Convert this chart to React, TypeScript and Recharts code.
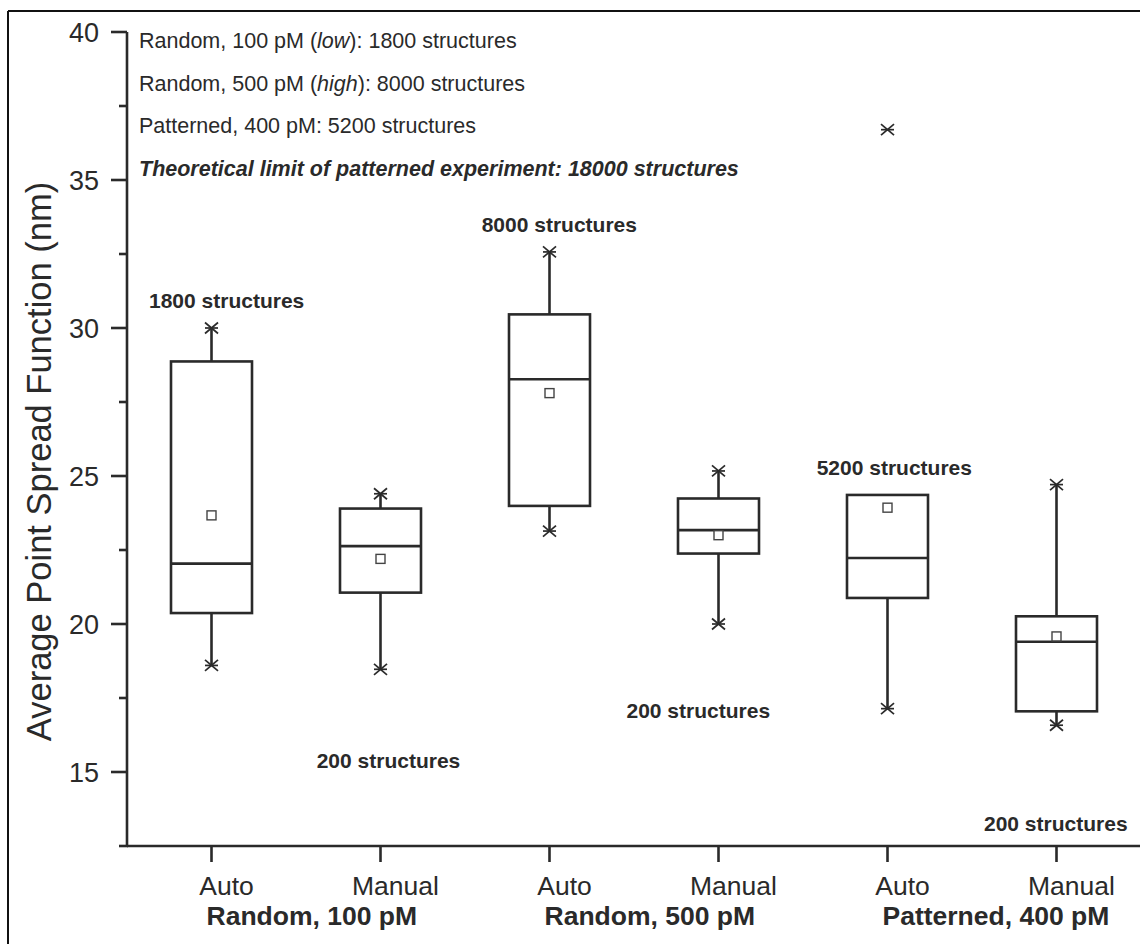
import React from 'react';
import { ComposedChart, Bar, XAxis, YAxis } from 'recharts';

const groups = ['Random, 100 pM', 'Random, 500 pM', 'Patterned, 400 pM'];
const methods = ['Auto', 'Manual', 'Auto', 'Manual', 'Auto', 'Manual'];
const ids = ['r100-auto', 'r100-manual', 'r500-auto', 'r500-manual', 'p400-auto', 'p400-manual'];
const lowStar = [18.6, 18.47, 23.14, 20.0, 17.14, 16.58];
const q1 = [20.37, 21.06, 23.99, 22.38, 20.88, 17.05];
const median = [22.04, 22.63, 28.27, 23.17, 22.23, 19.4];
const q3 = [28.87, 23.9, 30.46, 24.24, 24.36, 20.26];
const highStar = [30.0, 24.4, 32.57, 25.17, 36.7, 24.71];
const whiskerTop = [30.0, 24.4, 32.57, 25.17, 24.36, 24.71];
const mean = [23.67, 22.2, 27.8, 23.0, 23.93, 19.58];
const yTicks = [15, 17.5, 20, 22.5, 25, 27.5, 30, 32.5, 35, 37.5, 40];
const majorTicks = [15, 20, 25, 30, 35, 40];

const data = ids.map((id, i) => ({
  id,
  box: [q1[i], q3[i]],
  q1: q1[i],
  q3: q3[i],
  median: median[i],
  lowStar: lowStar[i],
  highStar: highStar[i],
  whiskerTop: whiskerTop[i],
  mean: mean[i],
}));

const INK = '#2a2a2a';
const FONT = '"Liberation Sans", Arial, sans-serif';

const Star = ({ cx, cy }: { cx: number; cy: number }) => (
  <g stroke={INK} strokeWidth={1.7}>
    <line x1={cx - 6.5} y1={cy - 5.5} x2={cx + 6.5} y2={cy + 5.5} />
    <line x1={cx - 6.5} y1={cy + 5.5} x2={cx + 6.5} y2={cy - 5.5} />
    <line x1={cx - 6.5} y1={cy} x2={cx + 6.5} y2={cy} />
  </g>
);

const BoxShape = (props: any) => {
  const { x, y, width, height, payload } = props;
  const top = Math.min(y, y + height);
  const h = Math.abs(height);
  const lo = payload.q1;
  const hi = payload.q3;
  const ppu = h / (hi - lo);
  const py = (v: number) => top + (hi - v) * ppu;
  const cx = x + width / 2;
  const sw = 2.6;
  return (
    <g>
      {payload.whiskerTop > hi && (
        <line x1={cx} y1={py(payload.whiskerTop)} x2={cx} y2={top} stroke={INK} strokeWidth={sw} />
      )}
      <line x1={cx} y1={top + h} x2={cx} y2={py(payload.lowStar)} stroke={INK} strokeWidth={sw} />
      <rect x={x} y={top} width={width} height={h} fill="#fff" stroke={INK} strokeWidth={sw} />
      <line x1={x} y1={py(payload.median)} x2={x + width} y2={py(payload.median)} stroke={INK} strokeWidth={sw} />
      <rect x={cx - 4.5} y={py(payload.mean) - 4.5} width={9} height={9} fill="#fff" stroke="#444" strokeWidth={1.4} />
      <Star cx={cx} cy={py(payload.highStar)} />
      <Star cx={cx} cy={py(payload.lowStar)} />
    </g>
  );
};

const XTick = (props: any) => {
  const { x, y, payload } = props;
  const i = ids.indexOf(payload.value);
  return (
    <g fontFamily={FONT} fill={INK}>
      <text x={x + 15} y={y + 33} textAnchor="middle" fontSize={26.5} fill={INK}>
        {methods[i]}
      </text>
      {i % 2 === 0 && (
        <text x={x - 5} y={y + 63} textAnchor="start" fontSize={26.5} fontWeight="bold" fill={INK}>
          {groups[i / 2]}
        </text>
      )}
    </g>
  );
};

const YTick = (props: any) => {
  const { x, y, payload } = props;
  const v = payload.value;
  const major = majorTicks.includes(v);
  const axisX = x + 16;
  return (
    <g>
      <line x1={axisX - (major ? 16 : 8)} y1={y} x2={axisX} y2={y} stroke={INK} strokeWidth={2.6} />
      {major && (
        <text x={axisX - 28} y={y} dy="0.36em" textAnchor="end" fontSize={27} fontFamily={FONT} fill={INK}>
          {v}
        </text>
      )}
    </g>
  );
};

export default function App() {
  return (
    <div style={{ position: 'fixed', left: 0, top: 0, width: 1140, height: 944, overflow: 'hidden', background: '#fff' }}>
      <div style={{ position: 'absolute', left: 0, top: 0 }}>
        <ComposedChart
          width={1160}
          height={944}
          data={data}
          margin={{ top: 32, right: 19, bottom: 0, left: 27 }}
        >
          <XAxis
            dataKey="id"
            type="category"
            height={98}
            interval={0}
            tickSize={16}
            tickMargin={0}
            axisLine={{ stroke: INK, strokeWidth: 2.6 }}
            tickLine={{ stroke: INK, strokeWidth: 2.6 }}
            tick={<XTick />}
          />
          <YAxis
            type="number"
            domain={[12.5, 40]}
            ticks={yTicks}
            interval={0}
            width={100}
            tickSize={16}
            tickMargin={0}
            allowDataOverflow
            axisLine={{ stroke: INK, strokeWidth: 2.6 }}
            tickLine={false}
            tick={<YTick />}
          />
          <Bar dataKey="box" barSize={81} shape={(p: any) => <BoxShape {...p} />} isAnimationActive={false} />
        </ComposedChart>
      </div>
      <svg
        width={1140}
        height={944}
        style={{ position: 'absolute', left: 0, top: 0, pointerEvents: 'none' }}
        fontFamily={FONT}
      >
        <line x1={8} y1={11} x2={1140} y2={11} stroke="#111" strokeWidth={2} />
        <line x1={8} y1={11} x2={8} y2={944} stroke="#111" strokeWidth={2} />
        <line x1={119} y1={846} x2={128} y2={846} stroke={INK} strokeWidth={2.6} />
        <text
          transform="translate(51 461.5) rotate(-90)"
          textAnchor="middle"
          fontSize={34.5}
          fill={INK}
        >
          Average Point Spread Function (nm)
        </text>
        <g fontSize={21.5} fill={INK}>
          <text x={139} y={48}>
            Random, 100 pM (<tspan fontStyle="italic">low</tspan>): 1800 structures
          </text>
          <text x={139} y={91}>
            Random, 500 pM (<tspan fontStyle="italic">high</tspan>): 8000 structures
          </text>
          <text x={139} y={133}>Patterned, 400 pM: 5200 structures</text>
          <text x={139} y={176} fontWeight="bold" fontStyle="italic">
            Theoretical limit of patterned experiment: 18000 structures
          </text>
        </g>
        <g fontSize={21} fontWeight="bold" fill={INK}>
          <text x={149} y={307.7}>1800 structures</text>
          <text x={481.7} y={232.3}>8000 structures</text>
          <text x={316.7} y={768.3}>200 structures</text>
          <text x={626.5} y={718}>200 structures</text>
          <text x={816.7} y={475}>5200 structures</text>
          <text x={984} y={830.7}>200 structures</text>
        </g>
      </svg>
    </div>
  );
}
